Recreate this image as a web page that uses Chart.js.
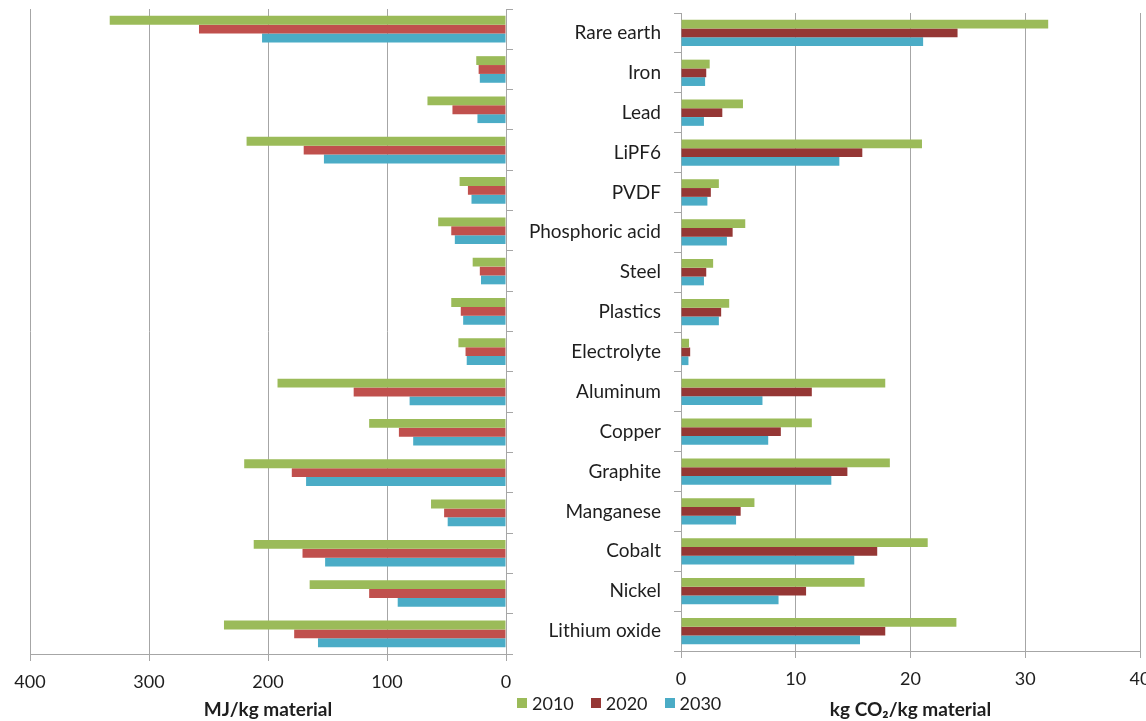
<!DOCTYPE html>
<html>
<head>
<meta charset="utf-8">
<title>Battery materials: energy and CO2 intensity</title>
<script src="https://cdn.jsdelivr.net/npm/chart.js@4.4.1/dist/chart.umd.min.js"></script>
<style>
  html, body { margin: 0; padding: 0; background: #fff; }
  #stage { position: relative; width: 1146px; height: 721px; overflow: hidden; }
  .panel { position: absolute; top: 0; height: 721px; }
  #left-panel { left: 0; width: 530px; }
  #right-panel { left: 510px; width: 636px; }
  #legend {
    position: absolute; left: 517px; top: 692px;
    display: flex; align-items: center;
    font: 18px Lato, sans-serif; color: #1e1e1e;
  }
  #legend .item { display: flex; align-items: center; margin-right: 17px; }
  #legend .swatch { width: 10px; height: 10px; margin-right: 5px; }
</style>
</head>
<body>
<div id="stage">
  <div class="panel" id="left-panel"><canvas id="energyChart"></canvas></div>
  <div class="panel" id="right-panel"><canvas id="co2Chart"></canvas></div>
  <div id="legend"></div>
</div>
<script>
// Data
const categories = ['Rare earth', 'Iron', 'Lead', 'LiPF6', 'PVDF', 'Phosphoric acid', 'Steel',
  'Plastics', 'Electrolyte', 'Aluminum', 'Copper', 'Graphite', 'Manganese', 'Cobalt', 'Nickel',
  'Lithium oxide'];
const years = ['2010', '2020', '2030'];

// MJ/kg material
const energy2010 = [333, 25, 66, 218, 39, 57, 28, 46, 40, 192, 115, 220, 63, 212, 165, 237];
const energy2020 = [258, 23, 45, 170, 32, 46, 22, 38, 34, 128, 90, 180, 52, 171, 115, 178];
const energy2030 = [205, 22, 24, 153, 29, 43, 21, 36, 33, 81, 78, 168, 49, 152, 91, 158];

// kg CO2/kg material
const co2_2010 = [32.0, 2.5, 5.4, 21.0, 3.3, 5.6, 2.8, 4.2, 0.7, 17.8, 11.4, 18.2, 6.4, 21.5, 16.0, 24.0];
const co2_2020 = [24.1, 2.2, 3.6, 15.8, 2.6, 4.5, 2.2, 3.5, 0.8, 11.4, 8.7, 14.5, 5.2, 17.1, 10.9, 17.8];
const co2_2030 = [21.1, 2.1, 2.0, 13.8, 2.3, 4.0, 2.0, 3.3, 0.65, 7.1, 7.6, 13.1, 4.8, 15.1, 8.5, 15.6];

const energyTicks = [0, 100, 200, 300, 400];
const co2Ticks = [0, 10, 20, 30, 40];

const colors = {
  green: '#9bbb59',
  red: '#c0504d',
  darkRed: '#953735',
  blue: '#4bacc6',
  grid: '#a6a6a6',
  text: '#1e1e1e',
};

Chart.defaults.font.family = "Lato, 'Open Sans', sans-serif";
Chart.defaults.font.size = 18;
Chart.defaults.color = colors.text;
Chart.defaults.animation = false;

function barSet(label, data, color) {
  return {
    label,
    data,
    backgroundColor: color,
    borderWidth: 0,
    categoryPercentage: 0.66,
    barPercentage: 1,
  };
}

function valueAxis(max, ticks, title, reverse, height) {
  return {
    type: 'linear',
    min: 0,
    max,
    reverse,
    afterBuildTicks: (s) => { s.ticks = ticks.map((v) => ({ value: v })); },
    ticks: { padding: 10, font: { size: 18 }, color: colors.text },
    grid: { color: colors.grid, lineWidth: 1, tickLength: 7, tickColor: colors.grid },
    border: { color: colors.grid },
    title: {
      display: true,
      text: title,
      font: { size: 19, weight: 'bold' },
      color: colors.text,
      padding: { top: 0, bottom: 0 },
    },
    afterFit: (s) => { s.height = height; s.paddingLeft = 0; s.paddingRight = 0; },
  };
}

function categoryAxis(position, showLabels, width) {
  return {
    type: 'category',
    position,
    grid: { drawOnChartArea: false, offset: true, tickLength: 7, color: colors.grid },
    border: { color: colors.grid },
    ticks: { display: showLabels, padding: 13, font: { size: 19 }, color: colors.text },
    afterFit: (s) => { s.width = width; s.paddingTop = 0; s.paddingBottom = 0; },
  };
}

// Left panel: energy use, axis running 400 -> 0
function initEnergyChart() {
  return new Chart(document.getElementById('energyChart'), {
    type: 'bar',
    data: {
      labels: categories,
      datasets: [
        barSet(years[0], energy2010, colors.green),
        barSet(years[1], energy2020, colors.red),
        barSet(years[2], energy2030, colors.blue),
      ],
    },
    options: {
      indexAxis: 'y',
      responsive: true,
      maintainAspectRatio: false,
      layout: { padding: { left: 30, right: 10, top: 9, bottom: 0 } },
      plugins: { legend: { display: false }, tooltip: { enabled: false } },
      scales: {
        x: valueAxis(400, energyTicks, 'MJ/kg material', true, 67),
        y: categoryAxis('right', false, 14),
      },
    },
  });
}

// Right panel: CO2 emissions with category names
function initCo2Chart() {
  return new Chart(document.getElementById('co2Chart'), {
    type: 'bar',
    data: {
      labels: categories,
      datasets: [
        barSet(years[0], co2_2010, colors.green),
        barSet(years[1], co2_2020, colors.darkRed),
        barSet(years[2], co2_2030, colors.blue),
      ],
    },
    options: {
      indexAxis: 'y',
      responsive: true,
      maintainAspectRatio: false,
      layout: { padding: { left: 0, right: 6, top: 13, bottom: 0 } },
      plugins: { legend: { display: false }, tooltip: { enabled: false } },
      scales: {
        x: valueAxis(40, co2Ticks, 'kg CO\u2082/kg material', false, 70),
        y: categoryAxis('left', true, 171),
      },
    },
  });
}

// Shared legend below the two panels
function buildLegend() {
  const swatches = [colors.green, colors.darkRed, colors.blue];
  const el = document.getElementById('legend');
  years.forEach((y, i) => {
    const item = document.createElement('div');
    item.className = 'item';
    item.innerHTML = `<span class="swatch" style="background:${swatches[i]}"></span><span>${y}</span>`;
    el.appendChild(item);
  });
}

buildLegend();
initEnergyChart();
initCo2Chart();
</script>
</body>
</html>
